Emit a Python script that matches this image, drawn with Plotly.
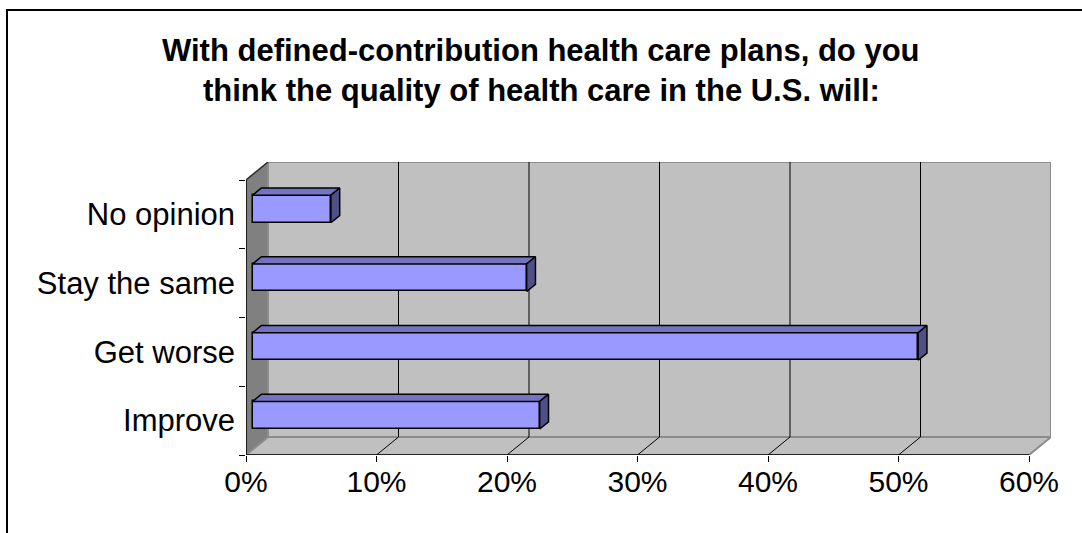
import plotly.graph_objects as go

# Survey answers (bottom to top) and their shares in percent
categories = ["Improve", "Get worse", "Stay the same", "No opinion"]
shares = [22, 51, 21, 6]

x_tick_values = [0, 10, 20, 30, 40, 50, 60]
x_tick_labels = ["0%", "10%", "20%", "30%", "40%", "50%", "60%"]

title_lines = [
    "With defined-contribution health care plans, do you",
    "think the quality of health care in the U.S. will:",
]

# ---- figure geometry -------------------------------------------------------
W, H = 1082, 533
PLOT_L, PLOT_R, PLOT_T, PLOT_B = 246, 1051, 162, 455
X_MAX = 60
DX = 1.686        # oblique depth offset along x, in percent units
DY = 0.262        # oblique depth offset along y, in category units
F0, F1 = 0.3, 0.7 # front/back depth of the bars inside the box
BAR_W = 0.4

FONT = "Liberation Sans, Arial, sans-serif"
WALL = "#C0C0C0"
SIDE = "#808080"
EDGE = "#8C8C8C"
BAR_FRONT = "#9999FF"
BAR_TOP = "#7373C0"
BAR_SIDE = "#505088"

y_lo, y_hi = -0.5, len(categories) - 0.5


def px_to_paper_x(px):
    return (px - PLOT_L) / (PLOT_R - PLOT_L)


def px_to_paper_y(py):
    return (PLOT_B - py) / (PLOT_B - PLOT_T)


def poly(points):
    return "M " + " L ".join(f"{x},{y}" for x, y in points) + " Z"


shapes = []
# left side wall
shapes.append(dict(type="path", layer="below", xref="x", yref="y",
                   path=poly([(0, y_lo), (DX, y_lo + DY), (DX, y_hi + DY), (0, y_hi)]),
                   fillcolor=SIDE, line=dict(color="#606060", width=1)))
# floor
shapes.append(dict(type="path", layer="below", xref="x", yref="y",
                   path=poly([(0, y_lo), (X_MAX, y_lo), (X_MAX + DX, y_lo + DY), (DX, y_lo + DY)]),
                   fillcolor=WALL, line=dict(color=EDGE, width=2)))
# back wall
shapes.append(dict(type="rect", layer="below", xref="x", yref="y",
                   x0=DX, x1=X_MAX + DX, y0=y_lo + DY, y1=y_hi + DY,
                   fillcolor=WALL, line=dict(color=EDGE, width=2)))
# side wall top edge
shapes.append(dict(type="line", layer="below", xref="x", yref="y",
                   x0=0, y0=y_hi, x1=DX, y1=y_hi + DY,
                   line=dict(color="#303030", width=1.5)))
# gridlines on back wall and floor
for v in x_tick_values[1:-1]:
    shapes.append(dict(type="line", layer="below", xref="x", yref="y",
                       x0=v + DX, x1=v + DX, y0=y_lo + DY, y1=y_hi + DY,
                       line=dict(color="black", width=1)))
    shapes.append(dict(type="line", layer="below", xref="x", yref="y",
                       x0=v, y0=y_lo, x1=v + DX, y1=y_lo + DY,
                       line=dict(color="black", width=1)))
# axis lines on the front plane
shapes.append(dict(type="line", xref="x", yref="y", x0=0, x1=X_MAX, y0=y_lo, y1=y_lo,
                   line=dict(color="black", width=1.5)))
shapes.append(dict(type="line", xref="x", yref="y", x0=0, x1=0, y0=y_lo, y1=y_hi,
                   line=dict(color="black", width=1.5)))
# chart frame
shapes.append(dict(type="rect", xref="paper", yref="paper",
                   x0=px_to_paper_x(7), x1=px_to_paper_x(W + 10),
                   y0=px_to_paper_y(H + 10), y1=px_to_paper_y(10),
                   line=dict(color="black", width=2), fillcolor="rgba(0,0,0,0)"))

fig = go.Figure()

ypos = list(range(len(categories)))
base = F0 * DX
fig.add_trace(go.Bar(
    orientation="h", y=ypos, x=shares, base=base,
    width=BAR_W, offset=-BAR_W / 2 + F0 * DY,
    marker=dict(color=BAR_FRONT, line=dict(color="black", width=1.5)),
    hoverinfo="skip", showlegend=False,
))

ddx = (F1 - F0) * DX
ddy = (F1 - F0) * DY
for i, v in zip(ypos, shares):
    y_bot = i - BAR_W / 2 + F0 * DY
    y_top = i + BAR_W / 2 + F0 * DY
    x_end = base + v
    top = [(base, y_top), (x_end, y_top), (x_end + ddx, y_top + ddy), (base + ddx, y_top + ddy), (base, y_top)]
    side = [(x_end, y_bot), (x_end, y_top), (x_end + ddx, y_top + ddy), (x_end + ddx, y_bot + ddy), (x_end, y_bot)]
    for pts, col in ((top, BAR_TOP), (side, BAR_SIDE)):
        fig.add_trace(go.Scatter(
            x=[p[0] for p in pts], y=[p[1] for p in pts],
            mode="lines", fill="toself", fillcolor=col,
            line=dict(color="black", width=1.5),
            hoverinfo="skip", showlegend=False,
        ))

annotations = []
for k, line in enumerate(title_lines):
    annotations.append(dict(
        text=f"<b>{line}</b>", xref="paper", yref="paper",
        x=px_to_paper_x(541), y=px_to_paper_y(50 + 41 * k),
        xanchor="center", yanchor="middle", showarrow=False,
        font=dict(family=FONT, size=31, color="black"),
    ))

fig.update_layout(
    width=W, height=H,
    margin=dict(l=PLOT_L, r=W - PLOT_R, t=PLOT_T, b=H - PLOT_B, pad=0),
    paper_bgcolor="white", plot_bgcolor="white",
    shapes=shapes, annotations=annotations,
    font=dict(family=FONT, size=30, color="black"),
    xaxis=dict(range=[0, X_MAX + DX], tickmode="array", tickvals=x_tick_values,
               ticktext=x_tick_labels, ticks="outside", ticklen=6, tickwidth=1,
               tickcolor="black", showgrid=False, zeroline=False, showline=False,
               ticklabelstandoff=-6, fixedrange=True),
    yaxis=dict(range=[y_lo, y_hi + DY], tickmode="array", tickvals=ypos,
               ticktext=categories, ticks="", ticklabelstandoff=10,
               tickfont=dict(size=31),
               minor=dict(tickvals=[i - 0.5 for i in range(len(categories) + 1)],
                          ticks="outside", ticklen=6, tickwidth=1, tickcolor="black",
                          showgrid=False),
               showgrid=False, zeroline=False, showline=False, fixedrange=True),
    bargap=0,
)

fig.write_html("out.html")
